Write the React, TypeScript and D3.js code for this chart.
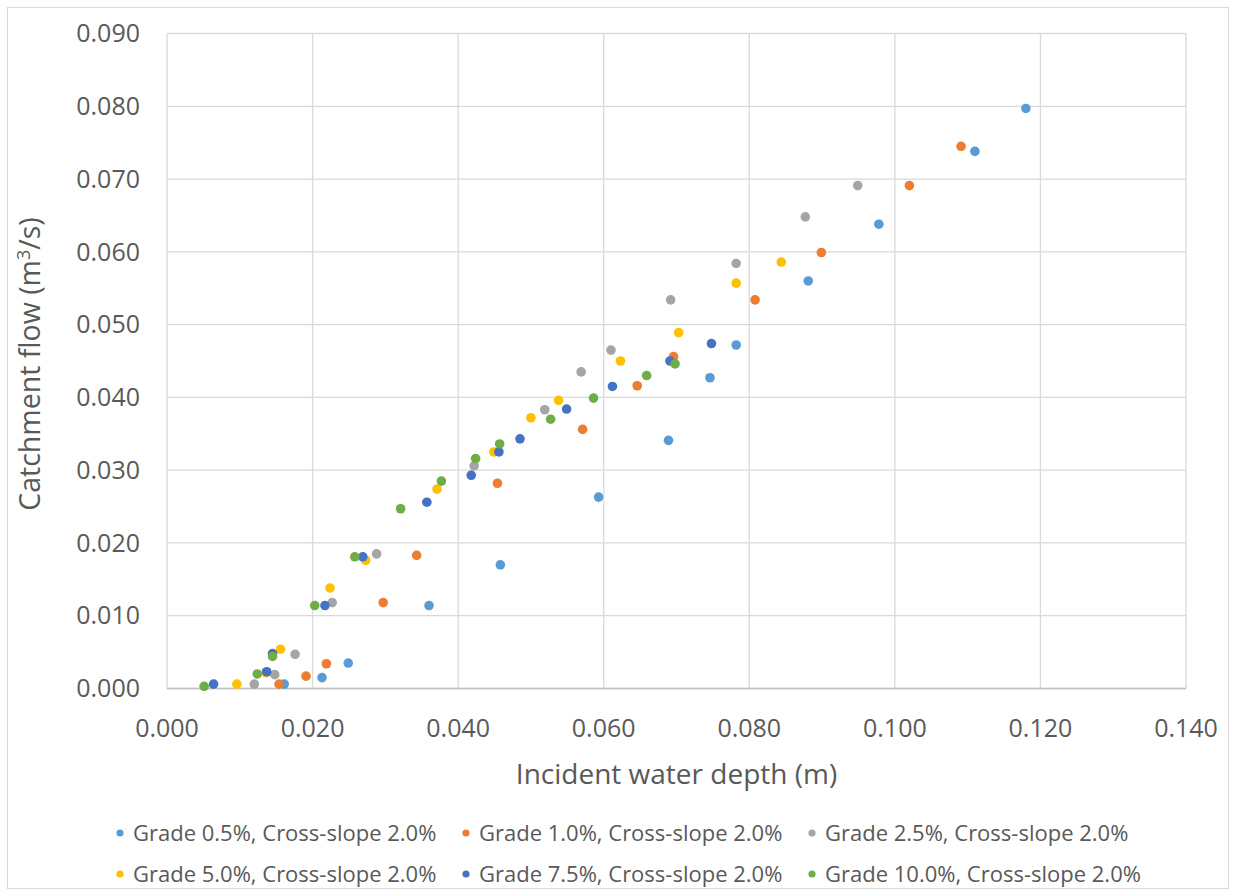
import React from "react";
import * as d3 from "d3";

// Incident water depth (m) and catchment flow (m³/s) per test series
const seriesNames = [
  "Grade 0.5%, Cross-slope 2.0%",
  "Grade 1.0%, Cross-slope 2.0%",
  "Grade 2.5%, Cross-slope 2.0%",
  "Grade 5.0%, Cross-slope 2.0%",
  "Grade 7.5%, Cross-slope 2.0%",
  "Grade 10.0%, Cross-slope 2.0%",
];

const grade05Depth = [0.118, 0.111, 0.0978, 0.0881, 0.0782, 0.0746, 0.0689, 0.0593, 0.0458, 0.036, 0.0249, 0.0213, 0.0161];
const grade05Flow = [0.0797, 0.0738, 0.0638, 0.056, 0.0472, 0.0427, 0.0341, 0.0263, 0.017, 0.0114, 0.0035, 0.0015, 0.0006];

const grade10Depth = [0.1091, 0.102, 0.0899, 0.0808, 0.0696, 0.0646, 0.0571, 0.0454, 0.0343, 0.0297, 0.0219, 0.0191, 0.0154];
const grade10Flow = [0.0745, 0.0691, 0.0599, 0.0534, 0.0456, 0.0416, 0.0356, 0.0282, 0.0183, 0.0118, 0.0034, 0.0017, 0.0006];

const grade25Depth = [0.0949, 0.0877, 0.0782, 0.0692, 0.061, 0.0569, 0.0519, 0.0422, 0.0288, 0.0227, 0.0176, 0.0148, 0.012];
const grade25Flow = [0.0691, 0.0648, 0.0584, 0.0534, 0.0465, 0.0435, 0.0383, 0.0306, 0.0185, 0.0118, 0.0047, 0.0019, 0.0006];

const grade50Depth = [0.0844, 0.0782, 0.0703, 0.0623, 0.0538, 0.05, 0.0449, 0.0371, 0.0273, 0.0224, 0.0156, 0.0136, 0.0096];
const grade50Flow = [0.0586, 0.0557, 0.0489, 0.045, 0.0396, 0.0372, 0.0325, 0.0274, 0.0176, 0.0138, 0.0054, 0.0022, 0.0006];

const grade75Depth = [0.0748, 0.0691, 0.0612, 0.0549, 0.0485, 0.0456, 0.0418, 0.0357, 0.0269, 0.0217, 0.0145, 0.0137, 0.0064];
const grade75Flow = [0.0474, 0.045, 0.0415, 0.0384, 0.0343, 0.0325, 0.0293, 0.0256, 0.0181, 0.0114, 0.0048, 0.0023, 0.0006];

const grade100Depth = [0.0698, 0.0659, 0.0586, 0.0527, 0.0457, 0.0424, 0.0377, 0.0321, 0.0258, 0.0203, 0.0145, 0.0124, 0.0051];
const grade100Flow = [0.0446, 0.043, 0.0399, 0.037, 0.0336, 0.0316, 0.0285, 0.0247, 0.0181, 0.0114, 0.0044, 0.002, 0.0003];

const seriesDepths = [grade05Depth, grade10Depth, grade25Depth, grade50Depth, grade75Depth, grade100Depth];
const seriesFlows = [grade05Flow, grade10Flow, grade25Flow, grade50Flow, grade75Flow, grade100Flow];
const seriesColors = ["#5B9BD5", "#ED7D31", "#A5A5A5", "#FFC000", "#4472C4", "#70AD47"];

const xTicks = [0, 0.02, 0.04, 0.06, 0.08, 0.1, 0.12, 0.14];
const yTicks = [0, 0.01, 0.02, 0.03, 0.04, 0.05, 0.06, 0.07, 0.08, 0.09];

const W = 1236;
const H = 896;
const FONT = "'Open Sans', 'Noto Sans', sans-serif";
const TEXT = "#595959";
const GRID = "#D9D9D9";

export default function App() {
  const x = d3.scaleLinear().domain([0, 0.14]).range([167, 1186]);
  const y = d3.scaleLinear().domain([0, 0.09]).range([688.5, 33.5]);
  const fmt = d3.format(".3f");

  const legendCols = [120, 466, 812];
  const legendRows = [833, 874];

  return (
    <svg
      width={W}
      height={H}
      style={{ position: "absolute", left: 0, top: 0, background: "#fff" }}
      fontFamily={FONT}
    >
      <rect x={7.5} y={7.5} width={1221} height={881} fill="#fff" stroke={GRID} />

      {/* gridlines */}
      {yTicks.map((t) => (
        <line key={"gy" + t} x1={x(0)} x2={x(0.14)} y1={y(t)} y2={y(t)} stroke={GRID} strokeWidth={1.3} />
      ))}
      {xTicks.map((t) => (
        <line key={"gx" + t} x1={x(t)} x2={x(t)} y1={y(0)} y2={y(0.09)} stroke={GRID} strokeWidth={1.3} />
      ))}
      <line x1={x(0)} x2={x(0.14)} y1={y(0)} y2={y(0)} stroke="#BFBFBF" strokeWidth={1.3} />

      {/* tick labels */}
      {yTicks.map((t) => (
        <text key={"ly" + t} x={140} y={y(t)} dy="0.35em" textAnchor="end" fontSize={25} fill={TEXT}>
          {fmt(t)}
        </text>
      ))}
      {xTicks.map((t) => (
        <text key={"lx" + t} x={x(t)} y={737} textAnchor="middle" fontSize={25} fill={TEXT}>
          {fmt(t)}
        </text>
      ))}

      {/* axis titles */}
      <text x={(x(0) + x(0.14)) / 2} y={784} textAnchor="middle" fontSize={28} fill={TEXT}>
        Incident water depth (m)
      </text>
      <text
        transform={`translate(40, 364) rotate(-90)`}
        textAnchor="middle"
        fontSize={28.5}
        fill={TEXT}
      >
        Catchment flow (m
        <tspan dy={-10} fontSize={18}>3</tspan>
        <tspan dy={10}>/s)</tspan>
      </text>

      {/* points */}
      {seriesDepths.map((depths, si) => (
        <g key={"s" + si} fill={seriesColors[si]}>
          {depths.map((d, i) => (
            <circle key={i} cx={x(d)} cy={y(seriesFlows[si][i])} r={4.8} />
          ))}
        </g>
      ))}

      {/* legend */}
      {seriesNames.map((name, i) => {
        const cx = legendCols[i % 3];
        const cy = legendRows[Math.floor(i / 3)];
        return (
          <g key={"lg" + i}>
            <circle cx={cx} cy={cy} r={3.6} fill={seriesColors[i]} />
            <text x={cx + 13} y={cy} dy="0.35em" fontSize={22} fill={TEXT}>
              {name}
            </text>
          </g>
        );
      })}
    </svg>
  );
}
